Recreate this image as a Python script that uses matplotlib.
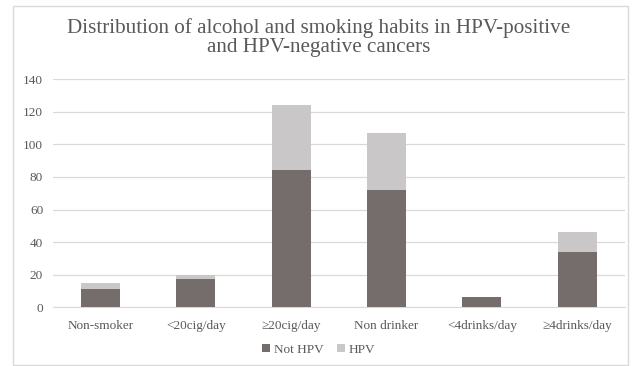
import matplotlib
matplotlib.use("Agg")
import matplotlib.pyplot as plt
import numpy as np

# habit groups and case counts per group
categories = ["Non-smoker", "<20cig/day", "\u226520cig/day", "Non drinker",
              "<4drinks/day", "\u22654drinks/day"]
not_hpv = [11, 17, 84, 72, 6, 34]
hpv = [4, 3, 40, 35, 0, 12]
yticks = [0, 20, 40, 60, 80, 100, 120, 140]

dark = "#746d6b"
light = "#c9c7c8"
text_col = "#595959"

plt.rcParams["font.family"] = ["Liberation Serif", "DejaVu Serif"]

fig = plt.figure(figsize=(6.37, 3.66), dpi=100)
ax = fig.add_axes([0.083, 0.161, 0.898, 0.622])

x = np.arange(len(categories))
ax.bar(x, not_hpv, width=0.41, color=dark, label="Not HPV", zorder=3)
ax.bar(x, hpv, width=0.41, bottom=not_hpv, color=light, label="HPV", zorder=3)

ax.set_xlim(-0.5, len(categories) - 0.5)
ax.set_ylim(0, 140)
ax.set_yticks(yticks)
ax.grid(axis="y", color="#d9d9d9", linewidth=0.9, zorder=0)
for s in ["top", "right", "left"]:
    ax.spines[s].set_visible(False)
ax.spines["bottom"].set_color("#d9d9d9")
ax.tick_params(length=0, labelsize=9.5, colors=text_col)
ax.tick_params(axis="x", pad=9)
ax.tick_params(axis="y", pad=7)
ax.set_xticks(x)
ax.set_xticklabels(categories)

fig.text(0.5, 0.897, "Distribution of alcohol and smoking habits in HPV-positive\nand HPV-negative cancers",
         ha="center", va="center", fontsize=15.2, color=text_col, linespacing=0.98)

fig.legend(loc="center", bbox_to_anchor=(0.5, 0.045), ncol=2, frameon=False,
           fontsize=9.5, labelcolor=text_col, handlelength=0.6, handleheight=0.6,
           handletextpad=0.3, columnspacing=1.0)

# chart frame
fig.patches.append(plt.Rectangle((0.02, 0.003), 0.966, 0.98, transform=fig.transFigure,
                                 fill=False, edgecolor="#d9d9d9", linewidth=1))

fig.savefig("out.png", dpi=100)
